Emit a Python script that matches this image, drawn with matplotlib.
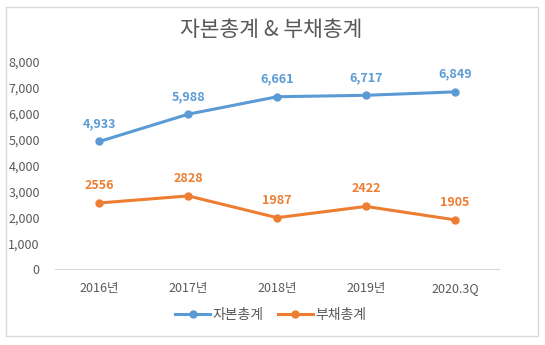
import matplotlib
matplotlib.use("Agg")
import matplotlib.pyplot as plt
from matplotlib.patches import Rectangle
from matplotlib.ticker import FuncFormatter

plt.rcParams['font.family'] = ['Noto Sans CJK KR', 'DejaVu Sans']

# Data
categories = ['2016년', '2017년', '2018년', '2019년', '2020.3Q']
equity = [4933, 5988, 6661, 6717, 6849]
debt = [2556, 2828, 1987, 2422, 1905]
equity_labels = ['4,933', '5,988', '6,661', '6,717', '6,849']
debt_labels = ['2556', '2828', '1987', '2422', '1905']

BLUE = '#5B9BD5'
ORANGE = '#ED7D31'
GRAY = '#595959'

fig = plt.figure(figsize=(5.45, 3.45), dpi=100)
ax = fig.add_axes([0.101, 0.220, 0.815, 0.600])

x = range(len(categories))
ax.plot(x, equity, color=BLUE, lw=2.2, marker='o', ms=5, label='자본총계')
ax.plot(x, debt, color=ORANGE, lw=2.2, marker='o', ms=5, label='부채총계')

for i, (v, s) in enumerate(zip(equity, equity_labels)):
    ax.annotate(s, (i, v), xytext=(0, 8), textcoords='offset points',
                ha='center', va='bottom', color=BLUE, fontsize=9, fontweight='bold')
for i, (v, s) in enumerate(zip(debt, debt_labels)):
    ax.annotate(s, (i, v), xytext=(0, 8), textcoords='offset points',
                ha='center', va='bottom', color=ORANGE, fontsize=9, fontweight='bold')

ax.set_xlim(-0.5, len(categories) - 0.5)
ax.set_ylim(0, 8000)
ax.set_yticks(range(0, 8001, 1000))
ax.yaxis.set_major_formatter(FuncFormatter(lambda v, p: f'{int(v):,}'))
ax.set_xticks(list(x))
ax.set_xticklabels(categories)
ax.tick_params(axis='both', length=0, colors=GRAY, labelsize=9)
ax.tick_params(axis='x', pad=9)
ax.tick_params(axis='y', pad=11)
for side in ['top', 'right', 'left']:
    ax.spines[side].set_visible(False)
ax.spines['bottom'].set_color('#D9D9D9')

fig.text(0.497, 0.912, '자본총계 & 부채총계', ha='center', va='center',
         fontsize=15.5, color=GRAY)

fig.legend(loc='center', bbox_to_anchor=(0.497, 0.088), ncol=2, frameon=False,
           fontsize=10, handlelength=2.5, columnspacing=1.0, handletextpad=0.2,
           labelcolor=GRAY)

fig.patches.append(Rectangle((0.011, 0.026), 0.976, 0.954, transform=fig.transFigure,
                             fill=False, edgecolor='#D9D9D9', lw=1))

fig.savefig('out.png', dpi=100)
